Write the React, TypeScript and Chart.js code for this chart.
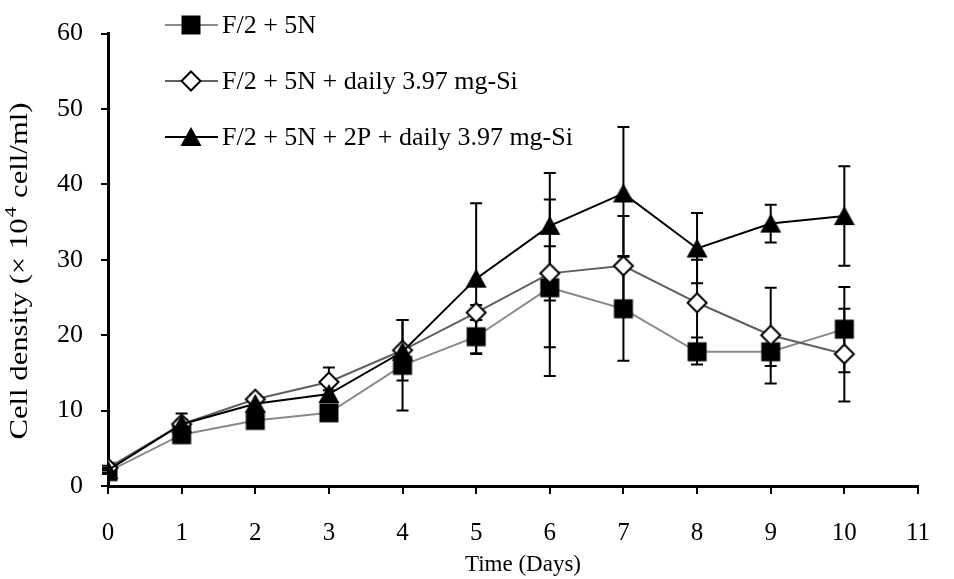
import React, { useEffect, useRef } from 'react';
import { Chart, registerables } from 'chart.js';

Chart.register(...registerables);

// ---- Data ----
const days = [0, 1, 2, 3, 4, 5, 6, 7, 8, 9, 10];
const seriesNames = [
  'F/2 + 5N',
  'F/2 + 5N + daily 3.97 mg-Si',
  'F/2 + 5N + 2P + daily 3.97 mg-Si',
];

const squareValues = [1.9, 6.8, 8.7, 9.7, 16.0, 19.8, 26.3, 23.5, 17.8, 17.8, 20.8];
const squareErrPlus = [0.3, 0.5, 0.5, 0.5, 6.0, 2.2, 11.7, 6.9, 1.9, 1.9, 5.6];
const squareErrMinus = [0.3, 0.5, 0.5, 0.5, 6.0, 2.2, 11.7, 6.9, 1.7, 1.9, 5.7];

const diamondValues = [2.4, 8.2, 11.5, 13.8, 18.0, 23.0, 28.2, 29.2, 24.3, 20.0, 17.5];
const diamondErrPlus = [0.3, 0.6, 0.6, 1.9, 4.0, 1.0, 3.6, 6.6, 5.7, 6.3, 6.0];
const diamondErrMinus = [0.3, 0.6, 0.6, 1.9, 4.0, 1.0, 3.6, 6.6, 5.7, 6.4, 6.3];

const triangleValues = [2.1, 8.2, 10.9, 12.2, 17.8, 27.5, 34.5, 38.8, 31.5, 34.8, 35.8];
const triangleErrPlus = [0.3, 1.4, 0.5, 0.5, 0.5, 10.0, 7.0, 8.8, 4.7, 2.5, 6.6];
const triangleErrMinus = [0.3, 1.4, 0.5, 0.5, 0.5, 10.0, 16.1, 8.3, 4.6, 2.5, 6.6];

const xTicks = [0, 1, 2, 3, 4, 5, 6, 7, 8, 9, 10, 11];
const yTicks = [0, 10, 20, 30, 40, 50, 60];

const xTitle = 'Time (Days)';
const yTitleParts = ['Cell density (× 10', '4', ' cell/ml)'];

const FONT = '"Liberation Serif", "Times New Roman", Times, serif';

function makeMarker(kind: string): HTMLCanvasElement {
  const c = document.createElement('canvas');
  c.width = 24;
  c.height = 24;
  const g = c.getContext('2d')!;
  const cx = 12, cy = 12;
  g.beginPath();
  if (kind === 'square') {
    g.rect(cx - 9.5, cy - 9.5, 19, 19);
    g.fillStyle = '#000';
    g.fill();
  } else if (kind === 'diamond') {
    g.moveTo(cx, cy - 9.5);
    g.lineTo(cx + 9.5, cy);
    g.lineTo(cx, cy + 9.5);
    g.lineTo(cx - 9.5, cy);
    g.closePath();
    g.fillStyle = '#fff';
    g.fill();
    g.lineWidth = 2;
    g.strokeStyle = '#000';
    g.stroke();
  } else {
    g.moveTo(cx, cy - 10);
    g.lineTo(cx + 10.5, cy + 9);
    g.lineTo(cx - 10.5, cy + 9);
    g.closePath();
    g.fillStyle = '#000';
    g.fill();
  }
  return c;
}

export default function App() {
  const ref = useRef<HTMLCanvasElement | null>(null);

  useEffect(() => {
    if (!ref.current) return;
    const markers = [makeMarker('square'), makeMarker('diamond'), makeMarker('triangle')];
    const lineColors = ['#8a8a8a', '#606060', '#000000'];

    const errorBarPlugin = {
      id: 'errorBars',
      beforeDatasetsDraw(chart: any) {
        const ctx = chart.ctx;
        const ys = chart.scales.y;
        ctx.save();
        ctx.strokeStyle = '#000';
        ctx.lineWidth = 2;
        chart.data.datasets.forEach((ds: any, i: number) => {
          const meta = chart.getDatasetMeta(i);
          meta.data.forEach((pt: any, j: number) => {
            const v = ds.data[j].y;
            const top = ys.getPixelForValue(v + ds.errPlus[j]);
            const bot = ys.getPixelForValue(v - ds.errMinus[j]);
            const x = pt.x;
            ctx.beginPath();
            ctx.moveTo(x, top);
            ctx.lineTo(x, bot);
            ctx.moveTo(x - 6, top);
            ctx.lineTo(x + 6, top);
            ctx.moveTo(x - 6, bot);
            ctx.lineTo(x + 6, bot);
            ctx.stroke();
          });
        });
        ctx.restore();
      },
    };

    const decorPlugin = {
      id: 'decor',
      afterDraw(chart: any) {
        const ctx = chart.ctx;
        ctx.save();
        // Legend
        const legendY = [25, 81, 137];
        legendY.forEach((ly, i) => {
          ctx.strokeStyle = lineColors[i];
          ctx.lineWidth = 2;
          ctx.beginPath();
          ctx.moveTo(165, ly);
          ctx.lineTo(218, ly);
          ctx.stroke();
          const m = markers[i];
          ctx.drawImage(m, 191 - m.width / 2, ly - m.height / 2);
          ctx.fillStyle = '#000';
          ctx.font = `26px ${FONT}`;
          ctx.textAlign = 'left';
          ctx.textBaseline = 'middle';
          ctx.fillText(seriesNames[i], 222, ly + 1);
        });
        // X title
        ctx.fillStyle = '#000';
        ctx.font = `23px ${FONT}`;
        ctx.textAlign = 'center';
        ctx.textBaseline = 'middle';
        ctx.fillText(xTitle, 523, 565);
        // Y title with superscript, spanning ~337px along the axis
        ctx.translate(20, 271);
        ctx.rotate(-Math.PI / 2);
        ctx.textAlign = 'left';
        ctx.textBaseline = 'middle';
        ctx.font = `25px ${FONT}`;
        const w1 = ctx.measureText(yTitleParts[0]).width;
        const w3 = ctx.measureText(yTitleParts[2]).width;
        ctx.font = `17px ${FONT}`;
        const w2 = ctx.measureText(yTitleParts[1]).width;
        const total = w1 + w2 + w3 + 2;
        const sx = 337 / total;
        ctx.scale(sx, 1);
        const start = -total / 2;
        ctx.font = `25px ${FONT}`;
        ctx.fillText(yTitleParts[0], start, 0);
        ctx.font = `17px ${FONT}`;
        ctx.fillText(yTitleParts[1], start + w1 + 1, -8);
        ctx.font = `25px ${FONT}`;
        ctx.fillText(yTitleParts[2], start + w1 + w2 + 2, 0);
        ctx.restore();
      },
    };

    const mk = (vals: number[]) => vals.map((v, i) => ({ x: days[i], y: v }));

    const chart = new Chart(ref.current, {
      type: 'line',
      data: {
        datasets: [
          {
            label: seriesNames[0],
            data: mk(squareValues),
            borderColor: lineColors[0],
            borderWidth: 2,
            pointStyle: markers[0],
            order: 3,
            errPlus: squareErrPlus,
            errMinus: squareErrMinus,
          } as any,
          {
            label: seriesNames[1],
            data: mk(diamondValues),
            borderColor: lineColors[1],
            borderWidth: 2,
            pointStyle: markers[1],
            order: 2,
            errPlus: diamondErrPlus,
            errMinus: diamondErrMinus,
          } as any,
          {
            label: seriesNames[2],
            data: mk(triangleValues),
            borderColor: lineColors[2],
            borderWidth: 2,
            pointStyle: markers[2],
            order: 1,
            errPlus: triangleErrPlus,
            errMinus: triangleErrMinus,
          } as any,
        ],
      },
      options: {
        responsive: false,
        animation: false,
        events: [],
        layout: { padding: { left: 0, right: 19, top: 22, bottom: 0 } },
        plugins: { legend: { display: false }, tooltip: { enabled: false } },
        elements: { line: { tension: 0 } },
        scales: {
          x: {
            type: 'linear',
            min: 0,
            max: 11,
            afterFit: (s: any) => { s.height = 93; },
            afterBuildTicks: (s: any) => { s.ticks = xTicks.map((v) => ({ value: v })); },
            grid: { drawOnChartArea: false, drawTicks: true, tickLength: 8, color: '#000', lineWidth: 2 },
            border: { color: '#000', width: 3 },
            ticks: { color: '#000', font: { family: FONT, size: 25 }, padding: 24, maxRotation: 0 },
          },
          y: {
            type: 'linear',
            min: 0,
            max: 60,
            afterFit: (s: any) => { s.width = 108; },
            afterBuildTicks: (s: any) => { s.ticks = yTicks.map((v) => ({ value: v })); },
            grid: { drawOnChartArea: false, drawTicks: true, tickLength: 7, color: '#000', lineWidth: 2 },
            border: { color: '#000', width: 3 },
            ticks: { color: '#000', font: { family: FONT, size: 26 }, padding: 18 },
          },
        },
      } as any,
      plugins: [errorBarPlugin, decorPlugin],
    });
    let alive = true;
    const fonts: any = (document as any).fonts;
    if (fonts && fonts.load) {
      Promise.all([
        fonts.load('24px "Liberation Serif"'),
        fonts.load('24px "Times New Roman"'),
      ]).catch(() => {}).then(() => {
        if (alive) chart.update();
      });
    }
    return () => {
      alive = false;
      chart.destroy();
    };
  }, []);

  return (
    <div style={{ position: 'absolute', left: 0, top: 0, width: 954, height: 579, background: '#fff' }}>
      <span style={{ position: 'absolute', left: -9999, fontFamily: FONT }}>F/2 + 5N</span>
      <canvas ref={ref} width={954} height={579} />
    </div>
  );
}
